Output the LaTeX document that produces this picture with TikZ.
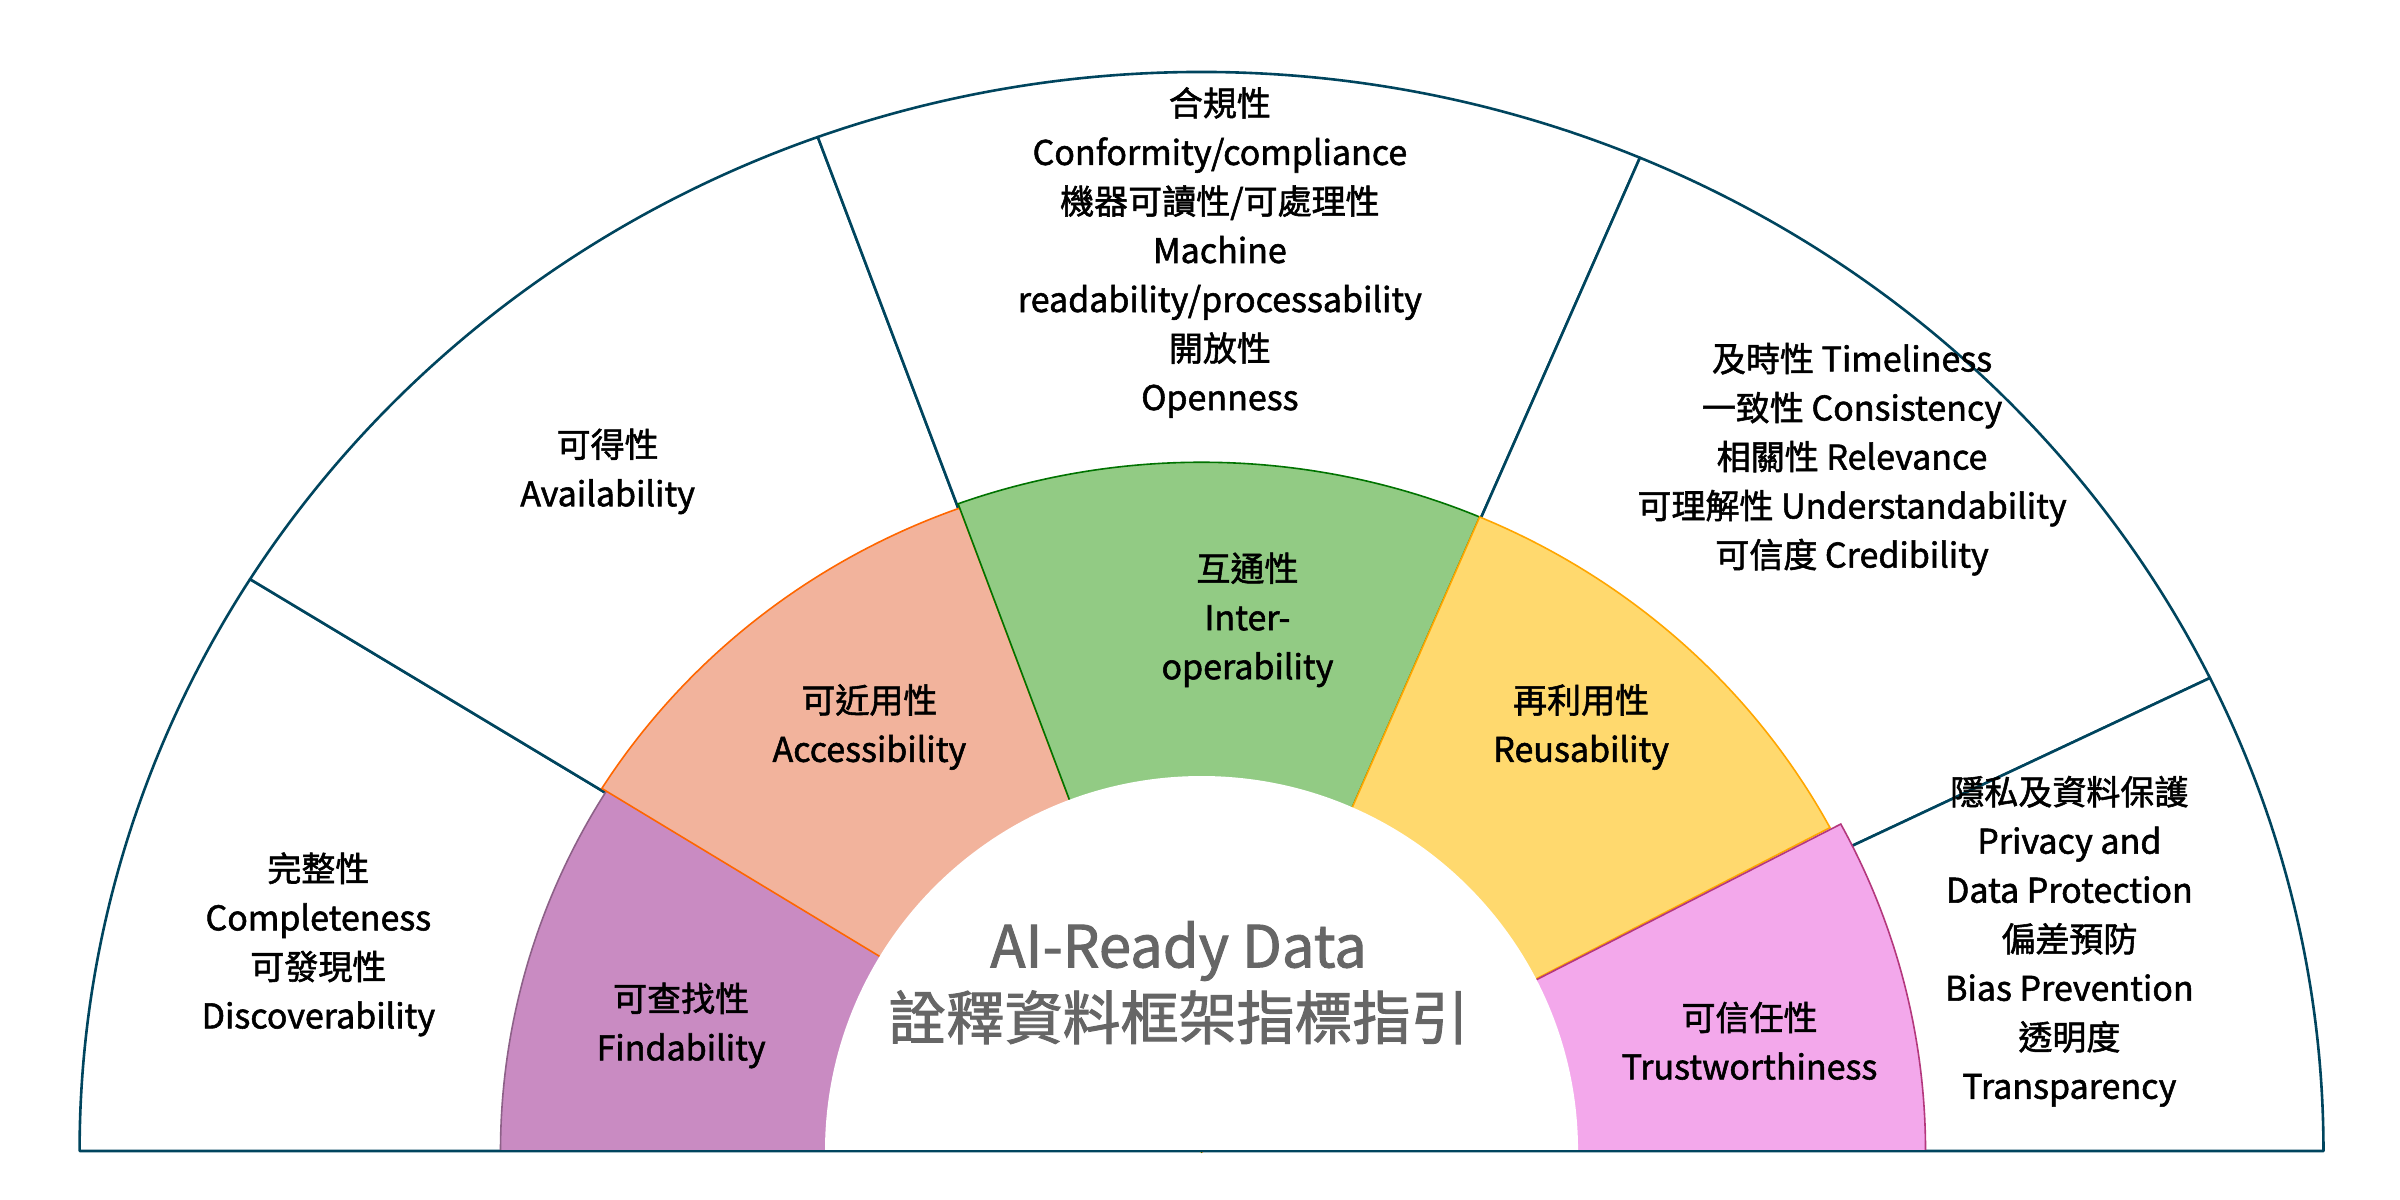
\documentclass[tikz,border=0pt]{standalone}
\usepackage{fontspec}
\setmainfont{Noto Sans CJK TC}[FakeBold=1.6]
\begin{document}
\begin{tikzpicture}[x=0.765pt,y=0.765pt,
  txt/.style={align=center,font=\fontsize{17}{24.5}\selectfont,text=black,inner sep=0pt},
  outer/.style={fill=white,draw=teal!60!black!90!blue,line width=1.3pt,line join=round}]
\useasboundingbox (0,0) rectangle (1568,784);
\coordinate (c) at (785,32);
\def\sector#1#2#3#4#5{%
  \path[#5] (c) -- ({785+#3*cos(#1)},{32+#4*sin(#1)}) arc[start angle=#1,end angle=#2,x radius=#3,y radius=#4] -- cycle;}
% outer ring
\sector{148}{180}{733}{705}{outer}
\sector{110}{148}{733}{705}{outer}
\sector{67}{110}{733}{705}{outer}
\sector{26}{67}{733}{705}{outer}
\sector{0}{26}{733}{705}{outer}
% coloured ring
\definecolor{cF}{HTML}{C98BC2}\definecolor{cA}{HTML}{F2B39C}\definecolor{cI}{HTML}{92CB84}
\definecolor{cR}{HTML}{FFD96E}\definecolor{cT}{HTML}{F3A8EB}
\sector{148}{180}{458}{445}{fill=cF,draw=cF!70!black,line width=0.8pt}
\sector{110}{148}{462}{447}{fill=cA,draw=orange!80!red,line width=0.8pt}
\sector{67}{110}{465}{450}{fill=cI,draw=green!45!black,line width=0.8pt}
\sector{28}{67}{465}{450}{fill=cR,draw=orange!70!yellow,line width=0.8pt}
\sector{0}{28}{473}{455}{fill=cT,draw=magenta!70!black,line width=0.8pt}
% inner
\path[fill=white] (785-246,32) arc[start angle=180,end angle=0,x radius=246,y radius=245] -- cycle;
\draw[teal!60!black!90!blue,line width=1.3pt] (52,32) -- (1518,32);
% texts
\node[txt] (n1) at (208,167) {完整性\\Completeness\\可發現性\\Discoverability};
\node[txt] (n2) at (397,476) {可得性\\Availability};
\node[txt] (n3) at (797,619) {合規性\\Conformity/compliance\\機器可讀性/可處理性\\Machine\\readability/processability\\開放性\\Openness};
\node[txt] (n4) at (1210,484) {及時性 Timeliness\\一致性 Consistency\\相關性 Relevance\\可理解性 Understandability\\可信度 Credibility};
\node[txt] (n5) at (1352,169) {隱私及資料保護\\Privacy and\\Data Protection\\偏差預防\\Bias Prevention\\透明度\\Transparency};
\node[txt] (f) at (445,114) {可查找性\\Findability};
\node[txt] (a) at (568,309) {可近用性\\Accessibility};
\node[txt] (i) at (815,379) {互通性\\Inter-\\operability};
\node[txt] (r) at (1033,309) {再利用性\\Reusability};
\node[txt] (t) at (1143,104) {可信任性\\Trustworthiness};
\node[txt,font=\fontsize{29}{36}\selectfont,text=black!60] (title) at (770,142) {AI-Ready Data\\詮釋資料框架指標指引};
\end{tikzpicture}
\end{document}
